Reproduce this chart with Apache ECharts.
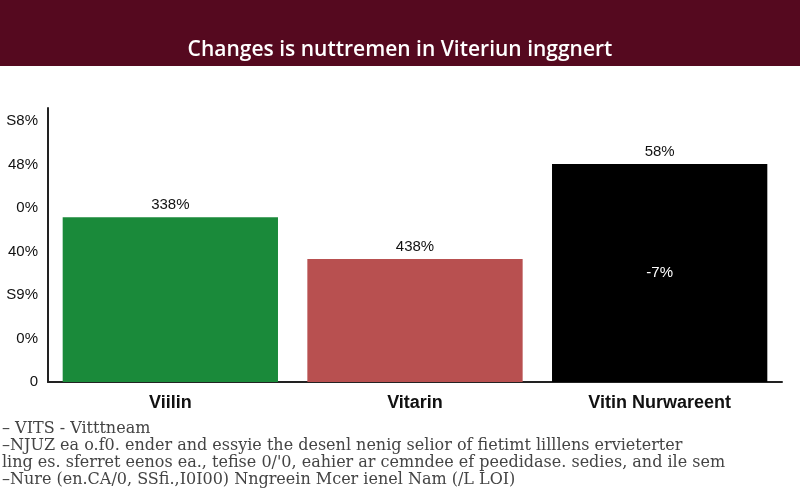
<!DOCTYPE html>
<html><head><meta charset="utf-8">
<script src="https://cdn.jsdelivr.net/npm/echarts@6/dist/echarts.min.js"></script>
<style>html,body{margin:0;padding:0;background:#fff}#c{width:800px;height:496px}</style>
</head><body><div id="c"></div>
<script>
const title = "Changes is nuttremen in Viteriun inggnert";
const categories = ["Viilin", "Vitarin", "Vitin Nurwareent"];
const values = [3.79, 2.83, 5.01];
const topLabels = ["338%", "438%", "58%"];
const innerLabels = ["", "", "-7%"];
const colors = ["#1a8a3a", "#b85050", "#000000"];
const yTickLabels = ["0", "0%", "S9%", "40%", "0%", "48%", "S8%"];
const footLines = [
  "– VITS - Vitttneam",
  "–NJUZ ea o.f0. ender and essyie the desenl nenig selior of fietimt lilllens ervieterter",
  "ling es. sferret eenos ea., tefise 0/'0, eahier ar cemndee ef peedidase. sedies, and ile sem",
  "–Nure (en.CA/0, SSfi.,I0I00) Nngreein Mcer ienel Nam (/L LOI)"
];
const chart = echarts.init(document.getElementById('c'));
chart.setOption({
  animation: false,
  grid: {left: 48, right: 18, top: 108, bottom: 114},
  graphic: [
    {type: 'rect', shape: {x: 0, y: 0, width: 800, height: 66}, style: {fill: '#55091f'}},
    {type: 'text', left: 'center', top: 40, style: {text: title, fill: '#fff', font: '600 21px "Open Sans", sans-serif'}}
  ].concat(footLines.map((t, i) => ({type: 'text', left: 2, top: 421 + i * 17,
    style: {text: t, fill: '#444', font: '16px "DejaVu Serif", serif'}}))),
  xAxis: {type: 'category', data: categories,
    axisLine: {lineStyle: {color: '#222', width: 2}}, axisTick: {show: false},
    axisLabel: {color: '#111', fontSize: 18, fontWeight: 'bold', fontFamily: 'Arial, sans-serif', margin: 12}},
  yAxis: {type: 'value', min: 0, max: 6.3, interval: 1,
    axisLine: {show: true, lineStyle: {color: '#222', width: 2}}, axisTick: {show: false},
    splitLine: {show: false},
    axisLabel: {color: '#111', fontSize: 15, fontFamily: 'Arial, sans-serif', margin: 10,
      formatter: v => yTickLabels[Math.round(v)] || ''}},
  series: [{type: 'bar', barCategoryGap: '12%',
    data: values.map((v, i) => ({value: v, itemStyle: {color: colors[i]},
      label: {show: !!innerLabels[i], position: 'inside', formatter: innerLabels[i], color: '#fff', fontSize: 15}}))},
  {type: 'bar', barGap: '-100%', barCategoryGap: '12%', silent: true,
    data: values.map((v, i) => ({value: v, itemStyle: {color: 'transparent'},
      label: {show: true, position: 'top', formatter: topLabels[i], color: '#111', fontSize: 15, fontFamily: 'Arial, sans-serif'}}))}]
});
</script></body></html>
